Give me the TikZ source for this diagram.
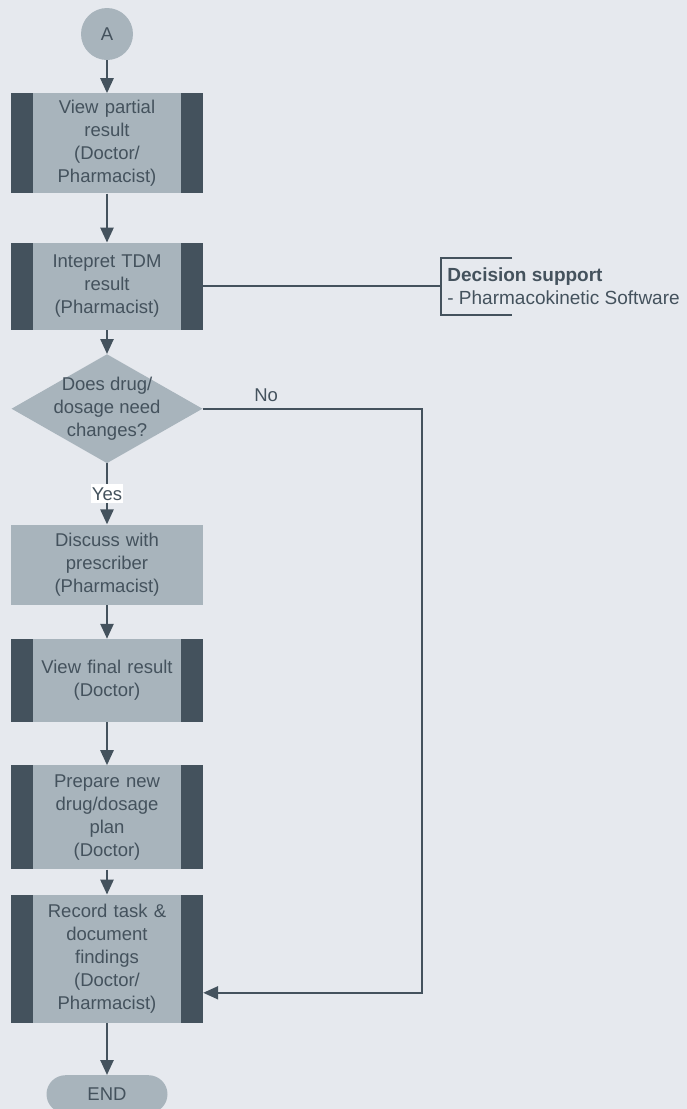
\documentclass[tikz,border=0pt]{standalone}
\usepackage{fontspec}
\setmainfont{Liberation Sans}
\usetikzlibrary{positioning,shapes.geometric,arrows.meta}
\definecolor{bgcol}{HTML}{E6E9EE}
\definecolor{boxcol}{HTML}{A8B4BC}
\definecolor{darkcol}{HTML}{44525D}
\begin{document}
\begin{tikzpicture}[
                            >={Triangle[length=15pt,width=13pt]},
                            every node/.style={text=darkcol,font=\fontsize{18.5pt}{23pt}\selectfont},
                            proc/.style={rectangle,fill=boxcol,text width=148pt,inner xsep=22pt,inner ysep=0pt,align=center},
                            subproc/.style={proc,path picture={
                                \fill[darkcol] (path picture bounding box.south west) rectangle ([xshift=22pt]path picture bounding box.north west);
                                \fill[darkcol] (path picture bounding box.south east) rectangle ([xshift=-22pt]path picture bounding box.north east);}},
                            conn/.style={draw=darkcol,line width=2.5pt,->},
                            link/.style={draw=darkcol,line width=2pt}
                        ]
                        \fill[bgcol] (0,0) rectangle (687pt,-1109pt);
                        \useasboundingbox (0,0) rectangle (687pt,-1109pt);
                        % Blocks
                        \node [circle,fill=boxcol,minimum size=52pt,inner sep=0pt] (A) at (107pt,-34pt) {A};
                        \node [subproc,minimum height=100pt,below=33pt of A] (view) {View partial\\result\\(Doctor/\\Pharmacist)};
                        \node [subproc,minimum height=87pt,below=49pt of view] (interp) {Intepret TDM\\result\\(Pharmacist)};
                        \node [diamond,fill=boxcol,minimum width=191pt,minimum height=109pt,inner sep=0pt,below=24pt of interp] (dec) {};
                        \node [align=center] (dectxt) at (dec) {Does drug/\\dosage need\\changes?};
                        \node [proc,minimum height=80pt,below=61pt of dec] (discuss) {Discuss with\\prescriber\\(Pharmacist)};
                        \node [subproc,minimum height=83pt,below=34pt of discuss] (final) {View final result\\(Doctor)};
                        \node [subproc,minimum height=104pt,below=43pt of final] (plan) {Prepare new\\drug/dosage\\plan\\(Doctor)};
                        \node [subproc,minimum height=128pt,below=25pt of plan] (record) {Record task \&\\document\\findings\\(Doctor/\\Pharmacist)};
                        \node [rectangle,rounded corners=19pt,fill=boxcol,minimum width=121pt,minimum height=38pt,below=52pt of record] (end) {END};
                        \node [align=left,anchor=west,inner xsep=6pt,inner ysep=0pt,minimum height=57pt,font=\fontsize{19pt}{23pt}\selectfont,right=238pt of interp] (ds) {\textbf{Decision support}\\- Pharmacokinetic Software};
                        \coordinate [right=219pt of dec.east] (noturn);

                        % Connections
                        \draw [conn] (A) -- (view);
                        \draw [conn] (view) -- (interp);
                        \draw [conn] (interp) -- (dec);
                        \draw [conn] (dec) -- node[fill=white,inner xsep=1pt,inner ysep=3pt]{Yes} (discuss);
                        \draw [conn] (discuss) -- (final);
                        \draw [conn] (final) -- (plan);
                        \draw [conn] (plan) -- (record);
                        \draw [conn] (record) -- (end);
                        \draw [link] (interp) -- (ds);
                        \draw [link] ([xshift=71pt]ds.north west) -- (ds.north west) -- (ds.south west) -- ([xshift=71pt]ds.south west);
                        \draw [link,->] (dec.east) -- node[pos=0.29,above=3pt]{No} (noturn) |- ([yshift=-34pt]record.east);
                    \end{tikzpicture}
\end{document}
